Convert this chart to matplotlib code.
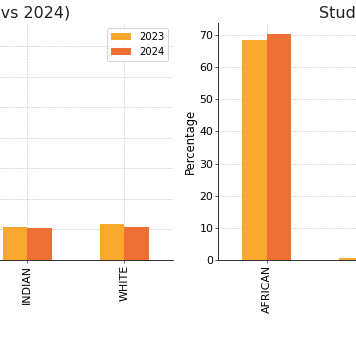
import numpy as np
from matplotlib import pyplot as plt

# Data (percentages by race, 2023 vs 2024)
categories = ['AFRICAN', 'COLOURED', 'INDIAN', 'WHITE']
years = ['2023', '2024']

staff_2023 = [72.5, 4.5, 10.8, 11.7]
staff_2024 = [74.0, 4.4, 10.4, 10.7]

student_2023 = [68.3, 0.5, 15.0, 16.2]
student_2024 = [70.2, 0.4, 14.5, 14.9]

colors = ['#f8a82d', '#ef7034']

W, H = 356, 354
fig = plt.figure(figsize=(W / 72, H / 72), dpi=72)

# the picture is a crop of a wider two-panel figure, so the axes run off the edges
ax1 = fig.add_axes([-215.5 / W, 94 / H, 388.5 / W, 237 / H])
ax2 = fig.add_axes([218.3 / W, 94 / H, 387 / W, 237 / H])


def draw(ax, v23, v24, title, title_x, ylabel=None):
    x = np.arange(len(categories))
    ax.bar(x - 0.125, v23, width=0.25, color=colors[0], label=years[0], zorder=2)
    ax.bar(x + 0.125, v24, width=0.25, color=colors[1], label=years[1], zorder=2)
    ax.set_xlim(-0.5, len(categories) - 0.5)
    ax.set_xticks(x)
    ax.set_xticklabels(categories, rotation=90, fontsize=11)
    ax.tick_params(axis='both', length=3, pad=2, labelsize=11, color='#333333')
    ax.set_title(title, fontsize=16, pad=5, color='#222222', x=title_x)
    if ylabel:
        ax.set_ylabel(ylabel, fontsize=11.5, labelpad=2)
    ax.grid(True, linestyle='--', color='#c8c8c8', linewidth=0.6, zorder=0)
    ax.set_axisbelow(True)
    for s in ['top', 'right']:
        ax.spines[s].set_visible(False)
    for s in ['left', 'bottom']:
        ax.spines[s].set_color('#333333')
        ax.spines[s].set_linewidth(1.0)


draw(ax1, staff_2023, staff_2024, 'Teachers (2023 vs 2024)', 0.4826)
draw(ax2, student_2023, student_2024, 'Students (2023 vs 2024)', 0.5165, ylabel='Percentage')

ax1.legend(loc='upper right', fontsize=10, borderaxespad=0.5, handlelength=2.0)

fig.savefig('out.png', dpi=72)
